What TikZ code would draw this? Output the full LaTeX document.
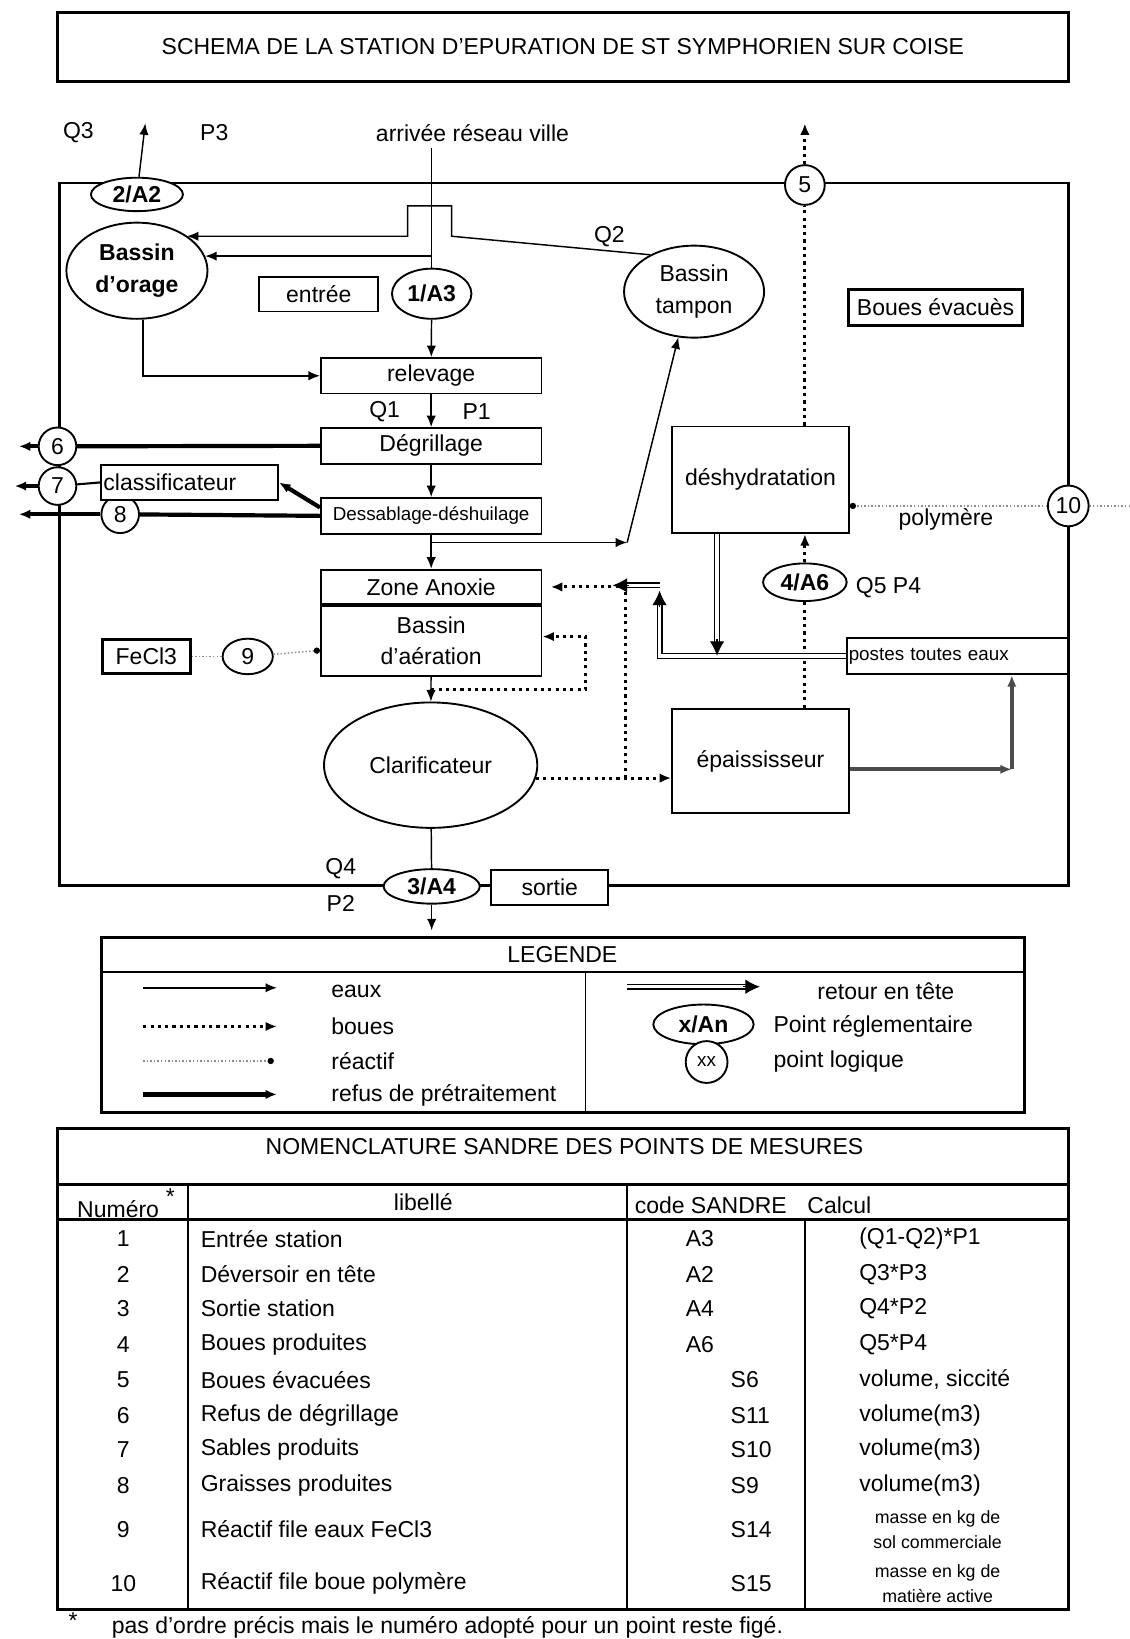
\documentclass[tikz,border=0pt]{standalone}
\usepackage{fontspec}
\setmainfont{Liberation Sans}
\usepackage{tikz}
\usetikzlibrary{arrows.meta,shapes.geometric,positioning}

\begin{document}
\begin{tikzpicture}[x=0.5pt,y=-0.5pt,>={Latex[length=5.5pt,width=4.5pt]},node distance=33.5pt,
    font=\fontsize{11}{13}\selectfont,
    box/.style={draw,line width=0.9pt,fill=white,inner sep=1pt,minimum width=105.5pt,minimum height=17pt},
    ovale/.style={draw,ellipse,line width=0.9pt,fill=white,inner sep=0pt},
    rond/.style={draw,circle,line width=0.9pt,fill=white,inner sep=0pt,minimum size=18pt},
    gras/.style={font=\fontsize{11}{15}\selectfont\bfseries},
    deux/.style={align=center,font=\fontsize{11}{15}\selectfont},
    petit/.style={font=\fontsize{9}{10}\selectfont},
    eaux/.style={line width=0.7pt},
    boues/.style={line width=1.5pt,dotted},
    reactif/.style={black!45,line width=0.7pt,densely dotted},
    point/.style={-{Circle[length=3pt,black]}},
    refus/.style={line width=2pt},
    retour/.style={double,double distance=1.6pt,line width=0.6pt,shorten >=6pt},
    pointe/.style={line width=0.6pt,-{Latex[length=7pt,width=7pt]}}]
  \useasboundingbox (0,0) rectangle (1081,1568);

  % titre et cadre de la station
  \node[draw,line width=1.6pt,minimum width=483.5pt,minimum height=33pt] (titre) at (538.5,45)
       {SCHEMA DE LA STATION D'EPURATION DE ST SYMPHORIEN SUR COISE};
  \draw[line width=1.3pt] (57,175) rectangle (1022,847);

  \node (q3)      at (75,127)  {Q3};
  \node (p3)      at (205,127) {P3};
  \node (arrivee) at (452,127) {arrivée réseau ville};
  \coordinate (sortieQ3) at (139,118);
  \coordinate (amont)    at (413,142);
  \coordinate (deriv)    at (413,245);

  \node[ovale,gras,align=center,minimum width=67.5pt,minimum height=46pt] (orage) at (131,259) {Bassin\\d'orage};
  \node[ovale,gras,minimum width=44pt,minimum height=16pt] (a2) at (131,186) {2/A2};
  \node[box,minimum width=57pt,minimum height=16.5pt] (entree) at (305,281.5) {entrée};
  \node[ovale,gras,minimum width=38pt,minimum height=24pt] (a3) at (413,281) {1/A3};
  \node[ovale,deux,minimum width=67pt,minimum height=44pt] (tampon) at (664,279) {Bassin\\tampon};
  \node (q2) at (583,226) {Q2};
  \node[rond,minimum size=19pt] (c5) at (770,177) {5};
  \node[box,line width=1.4pt,minimum width=83pt] (evac) at (895,294) {Boues évacuès};

  \node[box] (relev)  at (412.5,359.5) {relevage};
  \node[box] (degr)   [below of=relev] {Dégrillage};
  \node[box,petit] (dessab) [below of=degr] {Dessablage-déshuilage};
  \node (q1) at (368,394) {Q1};
  \node (p1) at (456,394) {P1};

  \node[rond] (c6) at (55,427) {6};
  \node[rond] (c7) at (55,465) {7};
  \node[rond] (c8) at (115,492) {8};
  \node[box,minimum width=84.5pt,minimum height=16.5pt,text width=82.5pt,align=left] (classif) at (181.5,461.5) {classificateur};
  \coordinate (out6) at (18,427);
  \coordinate (out7) at (14,465);
  \coordinate (out8) at (18,492);

  \node[box,minimum height=16.5pt] (anox) at (412.5,561.5) {Zone Anoxie};
  \node[box,deux,minimum height=33.5pt] (aer) [below=0pt of anox] {Bassin\\d'aération};
  \node[box,line width=1.4pt,minimum width=42pt,minimum height=16pt] (fecl) at (140,628) {FeCl3};
  \node[ovale,minimum width=24pt,minimum height=17pt] (c9) at (237,628) {9};
  \node[ovale,minimum width=102pt,minimum height=60pt] (clarif) at (412,732) {Clarificateur};

  \node[box,minimum width=84.5pt,minimum height=51pt] (deshy) at (727.5,459) {déshydratation};
  \node[box,minimum width=84.5pt,minimum height=50pt] (epais) at (727.5,728) {épaississeur};
  \node[ovale,gras,minimum width=40pt,minimum height=18pt] (a6) at (770,557) {4/A6};
  \node (q5p4) at (850,562) {Q5 P4};
  \node[rond,minimum size=19.5pt] (c10) at (1022,484) {10};
  \node (polym) at (905,497) {polymère};
  \node[box,petit,minimum width=106pt,minimum height=17.5pt,text width=104pt,align=left] (postes) at (916,627.5) {postes toutes eaux};

  \node[ovale,gras,minimum width=46pt,minimum height=16.5pt] (a4) at (413,848) {3/A4};
  \node[box,minimum width=56pt,minimum height=17pt] (sortie) at (526,849) {sortie};
  \node (q4) at (326,831) {Q4};
  \node (p2) at (326,864) {P2};
  \coordinate (rejet) at (413,890);

  % eaux
  \draw[eaux,->] (a2) -- (sortieQ3);
  \draw[eaux] (amont) -- (a3);
  \draw[eaux,->] (tampon.140) -- (432,226) -- (432,197) -- (390,197) -- (390,226) -- (390,226 -| orage.35);
  \draw[eaux,->] (deriv) -- (deriv -| orage.12);
  \draw[eaux,->] (a3) -- (relev);
  \draw[eaux,->] ([xshift=3pt]orage.south) |- (relev.west);
  \draw[eaux,->] (relev) -- (degr);
  \draw[eaux,->] (degr) -- (dessab);
  \draw[eaux,->] (dessab) -- (anox);
  \coordinate (br1) at (412.5,519);
  \coordinate (tj)  at (600,519);
  \draw[eaux,->] (br1) -- (tj);
  \draw[eaux,->] (tj) -- (tampon.251);
  \draw[eaux,->] (aer) -- (clarif);
  \draw[eaux] (clarif) -- (a4);
  \draw[eaux,->] (a4) -- (rejet);

  % refus de pretraitement
  \draw[refus] (degr.west) -- (c6);
  \draw[refus,->] (c6) -- (out6);
  \draw[line width=1pt] (classif.west) -- (c7);
  \draw[refus,->] (c7) -- (out7);
  \draw[refus,->] ([yshift=4pt]dessab.west) -- (classif.east);
  \draw[refus] (dessab.west) -- (c8);
  \draw[refus,->] (c8) -- (out8);
  \coordinate (coude) at (968,736);
  \draw[refus,black!70,->] (epais.east |- coude) -- (coude);
  \draw[refus,black!70,->] (coude) -- (coude |- postes.south);

  % reactifs
  \draw[reactif] (fecl) -- (c9);
  \draw[reactif,point] (c9) -- (aer);
  \coordinate (in10) at (1081,484);
  \draw[reactif] (in10) -- (c10);
  \draw[reactif,point] (c10) -- (c10 -| deshy.east);

  % boues
  \coordinate (rec1) at (412.5,660);
  \draw[boues,->] (rec1) -| (560,609) -- (aer.east |- 560,609);
  \draw[boues,->] (clarif.-7) -- (clarif.-7 -| epais.west);
  \coordinate (rec2) at (clarif.-7 -| 598,0);
  \draw[boues,->,shorten >=4pt] (rec2) -- (598,561.5) -- (anox.east);
  \draw[boues] ([xshift=21.25pt]epais.north) -- (a6);
  \draw[boues,->] (a6) -- ([xshift=21.25pt]deshy.south);
  \draw[boues] ([xshift=21.25pt]deshy.north) -- (c5);
  \coordinate (out5) at (770,118);
  \draw[boues,->] (c5) -- (out5);

  % retour en tete
  \coordinate (rt1) at (631,560);
  \coordinate (rt0) at (631,565);
  \coordinate (rt2) at (586,560);
  \coordinate (rd)  at ([xshift=-20.75pt]deshy.south |- postes.west);
  \draw[retour] (postes.west) -| (rt0);
  \draw[pointe] ([yshift=-8pt]rt0) -- (rt0);
  \draw[retour] (rt1) -- (rt2);
  \draw[pointe] ([xshift=8pt]rt2) -- (rt2);
  \draw[retour] ([xshift=-20.75pt]deshy.south) -- (rd);
  \draw[pointe] ([yshift=8pt]rd) -- (rd);

  % legende
  \draw[line width=1.4pt] (97,897) rectangle (980,1064);
  \draw[line width=1.2pt] (97,930) -- (980,930);
  \draw[line width=0.8pt] (560,930) -- (560,1064);
  \node (legende) at (538,913) {LEGENDE};
  \coordinate (le1) at (137,945);  \coordinate (le2) at (265,945);
  \coordinate (lb1) at (137,982);  \coordinate (lb2) at (265,982);
  \coordinate (lr1) at (137,1015); \coordinate (lr2) at (262,1015);
  \coordinate (lp1) at (137,1047); \coordinate (lp2) at (265,1047);
  \coordinate (lt1) at (600,944);  \coordinate (lt2) at (727,944);
  \draw[eaux,->] (le1) -- (le2);
  \draw[boues,->] (lb1) -- (lb2);
  \draw[reactif,point] (lr1) -- (lr2);
  \draw[refus,->] (lp1) -- (lp2);
  \draw[retour] (lt1) -- (lt2);
  \draw[pointe] ([xshift=-8pt]lt2) -- (lt2);
  \node[anchor=west] (leau)  at (310,948)  {eaux};
  \node[anchor=west] (lboue) at (310,982)  {boues};
  \node[anchor=west] (lreac) at (310,1015) {réactif};
  \node[anchor=west] (lrefu) at (310,1048) {refus de prétraitement};
  \node[anchor=west] (lreto) at (775,948)  {retour en tête};
  \node[ovale,gras,minimum width=48pt,minimum height=19pt] (lxan) at (673,980) {x/An};
  \node[anchor=west] (lregl) at (733,982)  {Point réglementaire};
  \node[rond,petit,minimum size=20pt] (lxx) at (676,1016) {xx};
  \node[anchor=west] (llogi) at (733,1016) {point logique};

  % nomenclature
  \draw[line width=1.4pt] (55,1080) rectangle (1022,1540);
  \draw[line width=1.4pt] (55,1133) -- (1022,1133);
  \draw[line width=1.4pt] (55,1167) -- (1022,1167);
  \draw[line width=0.9pt] (180,1133) -- (180,1540);
  \draw[line width=0.9pt] (600,1133) -- (600,1540);
  \draw[line width=0.9pt] (770,1167) -- (770,1540);
  \node (nomencl) at (540,1097) {NOMENCLATURE SANDRE DES POINTS DE MESURES};
  \node (hnum)   at (113,1157) {Numéro};
  \node (hstar)  at (163,1145) {*};
  \node (hlib)   at (405,1150) {libellé};
  \node (hcode)  at (680,1153) {code SANDRE};
  \node (hcalc)  at (803,1153) {Calcul};
  \foreach \n/\y/\lib/\code/\cx in {1/1185/Entrée station/A3/649, 2/1219/Déversoir en tête/A2/649,
      3/1252/Sortie station/A4/649, 4/1286/Boues produites/A6/649, 5/1320/Boues évacuées/S6/692,
      6/1354/Refus de dégrillage/S11/692, 7/1387/Sables produits/S10/692, 8/1421/Graisses produites/S9/692,
      9/1463/Réactif file eaux FeCl3/S14/692, 10/1515/Réactif file boue polymère/S15/692}
  {
    \node (num\n) at (118,\y) {\n};
    \node[anchor=west] (lib\n) at (185,\y) {\lib};
    \node[anchor=west] (code\n) at (\cx,\y) {\code};
  }
  \foreach \n/\y/\calc in {1/1185/{(Q1-Q2)*P1}, 2/1219/{Q3*P3}, 3/1252/{Q4*P2}, 4/1286/{Q5*P4},
      5/1320/{volume, siccité}, 6/1354/{volume(m3)}, 7/1387/{volume(m3)}, 8/1421/{volume(m3)}}
    \node[anchor=west] (calc\n) at (815,\y) {\calc};
  \node[align=center,font=\fontsize{8.5}{12}\selectfont] (calc9)  at (897,1463) {masse en kg de\\sol commerciale};
  \node[align=center,font=\fontsize{8.5}{12}\selectfont] (calc10) at (897,1515) {masse en kg de\\matière active};
  \node (etoile) at (70,1550) {*};
  \node[anchor=west] (note) at (100,1557) {pas d'ordre précis mais le numéro adopté pour un point reste figé.};
\end{tikzpicture}
\end{document}
